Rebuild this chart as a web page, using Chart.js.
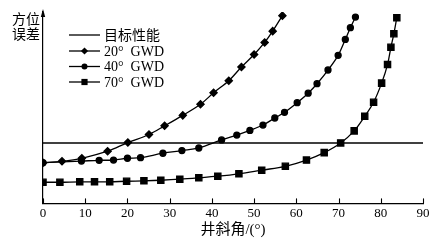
<!DOCTYPE html>
<html>
<head>
<meta charset="utf-8">
<script src="https://cdn.jsdelivr.net/npm/chart.js@4/dist/chart.umd.min.js"></script>
<style>
html,body{margin:0;padding:0;background:#fff;}
#wrap{width:446px;height:246px;position:relative;}
</style>
</head>
<body>
<div id="wrap"><canvas id="c" width="446" height="246"></canvas></div>
<script>
// ---- data ----
const xTicks = [0, 10, 20, 30, 40, 50, 60, 70, 80, 90];
const xTitle = "井斜角/(°)";
const yTitleLines = ["方位", "误差"];
const seriesNames = ["目标性能", "20°  GWD", "40°  GWD", "70°  GWD"];

const targetX = [0, 90];
const targetY = [30, 30];

const gwd20X = [0, 4.5, 9.2, 15.3, 20.1, 25.1, 28.8, 33.1, 37.3, 40.4, 44.0, 47.0, 50.0, 52.5, 54.4, 56.7];
const gwd20Y = [20.2, 20.9, 22.4, 25.9, 30.2, 34.2, 38.5, 43.7, 49.2, 54.9, 60.9, 67.7, 73.9, 79.9, 85.5, 93.2];

const gwd40X = [0, 9.1, 13.3, 16.7, 20.0, 23.1, 28.4, 32.9, 36.9, 42.3, 45.9, 49.0, 52.1, 54.9, 57.2, 60.2, 62.8, 64.9, 67.5, 69.9, 71.6, 72.8, 74.0];
const gwd40Y = [20.2, 21.0, 21.4, 21.5, 22.4, 22.7, 24.9, 26.2, 27.5, 31.5, 33.9, 36.2, 38.9, 42.4, 45.2, 50.0, 54.7, 59.4, 66.2, 73.5, 81.4, 87.2, 92.5];

const gwd70X = [0, 4.0, 8.7, 12.2, 15.8, 19.8, 23.9, 27.9, 32.4, 36.9, 41.4, 46.4, 51.8, 57.4, 62.4, 66.6, 70.5, 73.7, 76.2, 78.3, 80.2, 81.6, 82.4, 83.1, 83.8];
const gwd70Y = [10.5, 10.5, 10.7, 10.7, 10.7, 11.0, 11.2, 11.5, 12.0, 12.7, 13.5, 14.7, 16.5, 18.4, 21.5, 25.2, 30.0, 36.0, 43.2, 50.2, 59.7, 68.9, 77.5, 84.2, 92.2];

const yMin = 0, yMax = 95;

// ---- build ----
const pts = (xs, ys) => xs.map((x, i) => ({x: x, y: ys[i]}));
const LATIN = '"Liberation Serif", "Noto Sans CJK SC", serif';

const datasets = [
  {label: seriesNames[0], data: pts(targetX, targetY), borderColor: '#000', borderWidth: 1.5, pointRadius: 0, tension: 0},
  {label: seriesNames[1], data: pts(gwd20X, gwd20Y), borderColor: '#000', backgroundColor: '#000', borderWidth: 1.3, pointStyle: 'rectRot', pointRadius: 3.6, tension: 0.35},
  {label: seriesNames[2], data: pts(gwd40X, gwd40Y), borderColor: '#000', backgroundColor: '#000', borderWidth: 1.3, pointStyle: 'circle', pointRadius: 3, tension: 0.35},
  {label: seriesNames[3], data: pts(gwd70X, gwd70Y), borderColor: '#000', backgroundColor: '#000', borderWidth: 1.3, pointStyle: 'rect', pointRadius: 4.4, tension: 0.35}
];

function drawMarker(ctx, style, x, y) {
  ctx.beginPath();
  if (style === 'rectRot') {
    const r = 3.6;
    ctx.moveTo(x, y - r); ctx.lineTo(x + r, y); ctx.lineTo(x, y + r); ctx.lineTo(x - r, y); ctx.closePath();
  } else if (style === 'circle') {
    ctx.arc(x, y, 3, 0, Math.PI * 2);
  } else if (style === 'rect') {
    ctx.rect(x - 3.1, y - 3.1, 6.2, 6.2);
  } else { return; }
  ctx.fill();
}

const decor = {
  id: 'decor',
  afterDraw(chart) {
    const ctx = chart.ctx;
    const xs = chart.scales.x, ys = chart.scales.y;
    const ca = chart.chartArea;
    ctx.save();
    ctx.strokeStyle = '#000'; ctx.fillStyle = '#000'; ctx.lineWidth = 1.1;
    // inward tick marks on the x axis
    xs.ticks.forEach(t => {
      const px = Math.round(xs.getPixelForValue(t.value)) + 0.5;
      ctx.beginPath(); ctx.moveTo(px, ca.bottom); ctx.lineTo(px, ca.bottom - 5); ctx.stroke();
    });
    // arrow on the y axis
    const ax = ys.right;
    ctx.beginPath(); ctx.moveTo(ax, ca.top - 3); ctx.lineTo(ax - 2.2, ca.top + 5); ctx.lineTo(ax + 2.2, ca.top + 5); ctx.closePath(); ctx.fill();
    // y-axis title (two lines, horizontal)
    ctx.font = '14px ' + LATIN;
    ctx.textAlign = 'right'; ctx.textBaseline = 'middle';
    ctx.fillText(yTitleLines[0], ax - 3, 20);
    ctx.fillText(yTitleLines[1], ax - 3, 35);
    // legend
    const rows = [35, 51, 66.5, 82];
    chart.data.datasets.forEach((ds, i) => {
      const yy = rows[i];
      ctx.lineWidth = 1.3;
      ctx.beginPath(); ctx.moveTo(69, yy); ctx.lineTo(100, yy); ctx.stroke();
      if (ds.pointRadius > 0) drawMarker(ctx, ds.pointStyle, 84.5, yy);
      ctx.textAlign = 'left'; ctx.textBaseline = 'middle';
      ctx.font = '14px ' + LATIN;
      ctx.fillText(ds.label, 104, yy + 1);
    });
    ctx.restore();
  }
};

new Chart(document.getElementById('c'), {
  type: 'line',
  data: {datasets: datasets},
  options: {
    responsive: false,
    animation: false,
    devicePixelRatio: 1,
    layout: {padding: {left: 43, right: 23, top: 12, bottom: 8}},
    plugins: {legend: {display: false}, tooltip: {enabled: false}},
    elements: {line: {fill: false}},
    scales: {
      x: {
        type: 'linear', min: xTicks[0], max: xTicks[xTicks.length - 1],
        afterBuildTicks: (s) => { s.ticks = xTicks.map(v => ({value: v})); },
        grid: {display: false, drawTicks: false},
        border: {display: true, color: '#000', width: 1.2},
        ticks: {color: '#000', font: {family: LATIN, size: 13}, padding: 2, maxRotation: 0},
        title: {display: true, text: xTitle, color: '#000', font: {family: LATIN, size: 15, lineHeight: 1.0}, padding: {top: 0, bottom: 0}}
      },
      y: {
        type: 'linear', min: yMin, max: yMax,
        grid: {display: false, drawTicks: false},
        border: {display: true, color: '#000', width: 1.2},
        ticks: {display: false}
      }
    }
  },
  plugins: [decor]
});
</script>
</body>
</html>
